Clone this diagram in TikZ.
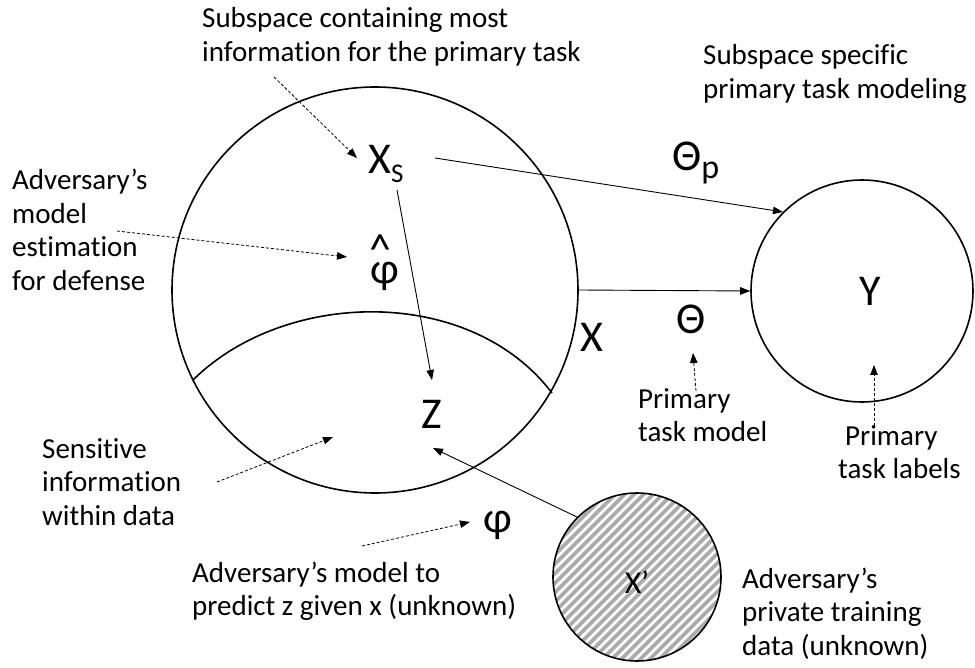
\documentclass[tikz,border=0pt]{standalone}
\usepackage{fontspec}
\setmainfont{Carlito}[Ligatures=NoCommon]
\usetikzlibrary{arrows.meta}
\newcommand{\lines}[1]{\begin{tabular}[t]{@{}l@{}}#1\end{tabular}}
\begin{document}
\begin{tikzpicture}[x=1pt,y=-1pt,
  ring/.style={circle, draw, line width=1.6pt, inner sep=0pt},
  txt/.style={inner sep=0pt, anchor=base west, font=\fontsize{29}{33.5}\selectfont},
  lbl/.style={inner sep=0pt, font=\fontsize{44}{44}\selectfont},
  link/.style={line width=0.9pt, -{Triangle[length=10pt,width=7.5pt]}},
  hint/.style={line width=0.8pt, dash pattern=on 3pt off 2pt, -{Triangle[length=10pt,width=7.5pt]}},
  hatchline/.style={line width=3.6pt, draw=black!33}]
\useasboundingbox (0,0) rectangle (975,668);

% circles
\node[ring, minimum size=406pt] (big) at (375,290) {};
\node[ring, minimum size=222pt] (ycirc) at (862,291) {};
\node[ring, minimum size=168pt, path picture={
  \foreach \k in {-20,...,20}
    \draw[hatchline] ([xshift=\k*9.5pt-120pt, yshift=-120pt]path picture bounding box.center) -- ++(240pt,240pt);
  }] (xpc) at (637,577) {};

% inner arc of sensitive region
\draw[line width=1.6pt] (193,380) .. controls (285,289) and (470,285) .. (552,393);

% math labels
\node[lbl, anchor=base west] (xs) at (368,174) {X\raisebox{-9pt}{\fontsize{27}{27}\selectfont S}};
\node[lbl, anchor=base] (phihat) at (385,284) {\rlap{\kern-1pt\raisebox{19pt}{\textasciicircum}}φ};
\node[lbl] (z) at (432,414) {Z};
\node[lbl] (x) at (592,337) {X};
\node[lbl] (theta) at (691,319) {Θ};
\node[lbl, anchor=base west] (thetap) at (672,171) {Θ\raisebox{-8pt}{\fontsize{34}{34}\selectfont p}};
\node[lbl] (y) at (870,291) {Y};
\node[lbl] (phi) at (498,525) {φ};
\node[inner sep=0pt, font=\fontsize{32}{32}\selectfont] (xp) at (637,582) {X’};

% text labels
\node[txt] (t1) at (202,28) {\lines{Subspace containing most\\information for the primary task}};
\node[txt] (t2) at (703,65) {\lines{Subspace specific\\primary task modeling}};
\node[txt] (t3) at (12,190) {\lines{Adversary’s\\model\\estimation\\for defense}};
\node[txt] (t4) at (42,458) {\lines{Sensitive\\information\\within data}};
\node[txt] (t5) at (192,582) {\lines{Adversary’s model to\\predict z given x (unknown)}};
\node[txt] (t6) at (638,408) {\lines{Primary\\task model}};
\node[txt] (t7) at (838,445) {\lines{\hspace{7pt}Primary\\task labels}};
\node[txt] (t8) at (742,588) {\lines{Adversary’s\\private training\\data (unknown)}};

% connector end points
\coordinate (a1s) at (435,158);
\coordinate (a3s) at (397,190);
\coordinate (a3e) at (432,380);
\coordinate (a4e) at (433,448);
\coordinate (d1s) at (274,77);   \coordinate (d1e) at (357,158);
\coordinate (d2s) at (117,231);  \coordinate (d2e) at (347,257);
\coordinate (d3s) at (696,391);  \coordinate (d3e) at (693,353);
\coordinate (d4s) at (874,426);  \coordinate (d4e) at (874,365);
\coordinate (d5s) at (217,482);  \coordinate (d5e) at (333,437);
\coordinate (d6s) at (362,546);  \coordinate (d6e) at (470,522);

% solid arrows
\draw[link] (a1s) -- (ycirc.135);
\draw[link] (big.east) -- (ycirc.west);
\draw[link] (a3s) -- (a3e);
\draw[link] (xpc.135) -- (a4e);

% dashed hint arrows
\draw[hint] (d1s) -- (d1e);
\draw[hint] (d2s) -- (d2e);
\draw[hint] (d3s) -- (d3e);
\draw[hint] (d4s) -- (d4e);
\draw[hint] (d5s) -- (d5e);
\draw[hint] (d6s) -- (d6e);
\end{tikzpicture}
\end{document}
